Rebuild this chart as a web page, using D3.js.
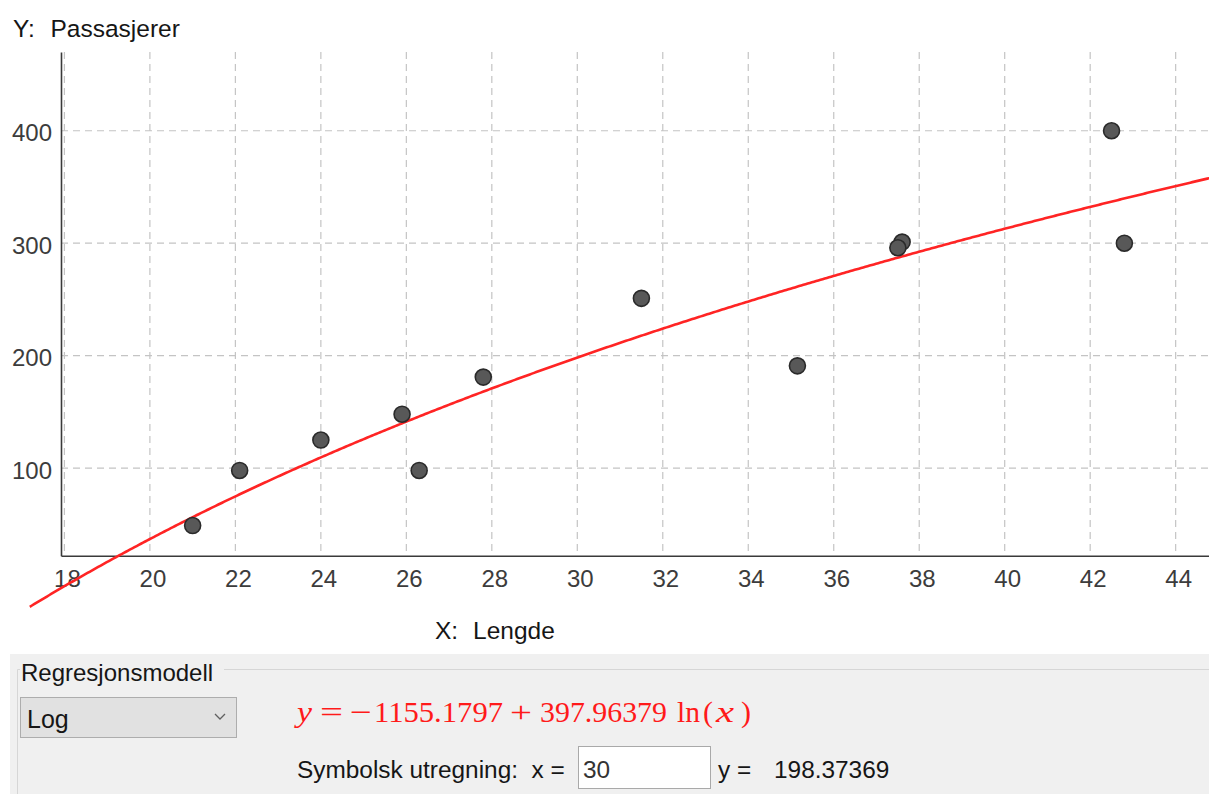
<html>
<head>
<meta charset="utf-8">
<script src="https://cdnjs.cloudflare.com/ajax/libs/d3/7.8.5/d3.min.js"></script>
<style>
  body { margin: 0; background: #fff; }
  svg text { font-family: "Liberation Sans", Arial, sans-serif; }
</style>
</head>
<body>
<svg width="1209" height="794"></svg>
<script>
// data
const lengde      = [21.0, 22.1, 24.0, 25.9, 26.3, 27.8, 31.5, 35.15, 37.6, 37.5, 42.5, 42.8];
const passasjerer = [49,   98,   125,  148,  98,   181,  251,  191,   301,  296,  400,  300];
const xTicks = [18, 20, 22, 24, 26, 28, 30, 32, 34, 36, 38, 40, 42, 44];
const yTicks = [100, 200, 300, 400];
// log model: y = a + b ln(x)
const koeff = [-1155.1797, 397.96379];
const xInput = "30";
const yResult = "198.37369";

const svg = d3.select("svg");

const x = d3.scaleLinear().domain([17.92, 44.78]).range([61, 1209]);
const y = d3.scaleLinear().domain([22.2, 470]).range([555.7, 52]);

// grid
const grid = svg.append("g")
    .attr("stroke", "#c4c4c4")
    .attr("stroke-width", 1.2)
    .attr("stroke-dasharray", "7,5");

grid.selectAll(".gx")
    .data(xTicks)
    .join("line")
    .attr("class", "gx")
    .attr("x1", d => x(d)).attr("x2", d => x(d))
    .attr("y1", y.range()[1]).attr("y2", y.range()[0]);

grid.selectAll(".gy")
    .data(yTicks)
    .join("line")
    .attr("class", "gy")
    .attr("x1", x.range()[0]).attr("x2", x.range()[1])
    .attr("y1", d => y(d)).attr("y2", d => y(d));

// axes
const xAxis = d3.axisBottom(x).tickValues(xTicks).tickSize(0);
const yAxis = d3.axisLeft(y).tickValues(yTicks).tickSize(0);

const gx = svg.append("g")
    .attr("transform", `translate(0, ${y.range()[0]})`)
    .call(xAxis);
gx.select(".domain").attr("stroke", "#3a3a3a").attr("stroke-width", 1.6);
gx.selectAll("text")
    .attr("y", 31).attr("dy", null).attr("dx", 2.5)
    .attr("fill", "#3c3c3c")
    .attr("font-size", 24)
    .style("font-family", "Liberation Sans, Arial, sans-serif");

const gy = svg.append("g")
    .attr("transform", `translate(${x.range()[0]}, 0)`)
    .call(yAxis);
gy.select(".domain").attr("stroke", "#3a3a3a").attr("stroke-width", 1.6);
gy.selectAll("text")
    .attr("x", -9).attr("dy", "0.42em")
    .attr("fill", "#3c3c3c")
    .attr("font-size", 24)
    .style("font-family", "Liberation Sans, Arial, sans-serif");

// regression curve
const xs = d3.range(17.19, 44.8, 0.05);
const line = d3.line()
    .x(d => x(d))
    .y(d => y(koeff[0] + koeff[1] * Math.log(d)));

svg.append("path")
    .datum(xs)
    .attr("d", line)
    .attr("fill", "none")
    .attr("stroke", "#ff2424")
    .attr("stroke-width", 2.6);

// points
svg.append("g")
    .selectAll("circle")
    .data(lengde.map((d, i) => [d, passasjerer[i]]))
    .join("circle")
    .attr("cx", d => x(d[0]))
    .attr("cy", d => y(d[1]))
    .attr("r", 8)
    .attr("fill", "#585858")
    .attr("stroke", "#2a2a2a")
    .attr("stroke-width", 1.6);

// axis titles
const titles = svg.append("g").attr("fill", "#161616").attr("font-size", 24.5);
titles.append("text").attr("x", 13).attr("y", 37).text("Y:");
titles.append("text").attr("x", 50.5).attr("y", 37).text("Passasjerer");
titles.append("text").attr("x", 435).attr("y", 639).text("X:");
titles.append("text").attr("x", 473).attr("y", 639).text("Lengde");

// bottom panel
const panel = svg.append("g");
panel.append("rect")
    .attr("x", 10).attr("y", 654)
    .attr("width", 1199).attr("height", 140)
    .attr("fill", "#f0f0f0");

panel.append("path")
    .attr("d", "M20,669.5 H17.5 V794 M224,669.5 H1209")
    .attr("fill", "none")
    .attr("stroke", "#d6d6d6")
    .attr("stroke-width", 1);

panel.append("text")
    .attr("x", 21).attr("y", 681)
    .attr("font-size", 24)
    .attr("fill", "#161616")
    .text("Regresjonsmodell");

// combo box
panel.append("rect")
    .attr("x", 20.5).attr("y", 697.5)
    .attr("width", 216).attr("height", 40)
    .attr("fill", "#e1e1e1")
    .attr("stroke", "#adadad");
panel.append("text")
    .attr("x", 27).attr("y", 728)
    .attr("font-size", 25)
    .attr("fill", "#161616")
    .text("Log");
panel.append("path")
    .attr("d", "M215,714 L220,719 L225,714")
    .attr("fill", "none")
    .attr("stroke", "#606060")
    .attr("stroke-width", 1.3);

// equation, set piece by piece like typeset maths
const eq = panel.append("g")
    .attr("fill", "#ff1a1a")
    .attr("font-size", 30)
    .style("font-family", "Liberation Serif, 'Times New Roman', serif");
const eqPart = (str, x0, w, italic) => {
    const t = eq.append("text")
        .attr("x", x0).attr("y", 722)
        .style("font-family", "Liberation Serif, 'Times New Roman', serif")
        .text(str);
    if (w) t.attr("textLength", w).attr("lengthAdjust", "spacingAndGlyphs");
    if (italic) t.attr("font-style", "italic");
};
eqPart("y", 297, 15, true);
eqPart("=", 320, 23);
eqPart("\u2212", 350, 22);
eqPart(Math.abs(koeff[0]).toFixed(4), 374, 129);
eqPart("+", 510, 22);
eqPart(koeff[1].toFixed(5), 540, 127);
eqPart("ln", 677, 23);
eqPart("(", 703, 10);
eqPart("x", 716, 18, true);
eqPart(")", 741, 10);

// symbolic evaluation row
panel.append("text")
    .attr("x", 297).attr("y", 778)
    .attr("font-size", 24.4)
    .attr("fill", "#161616")
    .attr("xml:space", "preserve")
    .text("Symbolsk utregning:  x =");

panel.append("rect")
    .attr("x", 578.5).attr("y", 746.5)
    .attr("width", 132).attr("height", 42)
    .attr("fill", "#fff")
    .attr("stroke", "#a9a9a9");
panel.append("text")
    .attr("x", 583).attr("y", 778)
    .attr("font-size", 24.4)
    .attr("fill", "#333")
    .text(xInput);

panel.append("text")
    .attr("x", 718).attr("y", 778)
    .attr("font-size", 24.4)
    .attr("fill", "#161616")
    .text("y =");
panel.append("text")
    .attr("x", 774).attr("y", 778)
    .attr("font-size", 24.4)
    .attr("fill", "#161616")
    .text(yResult);
</script>
</body>
</html>
